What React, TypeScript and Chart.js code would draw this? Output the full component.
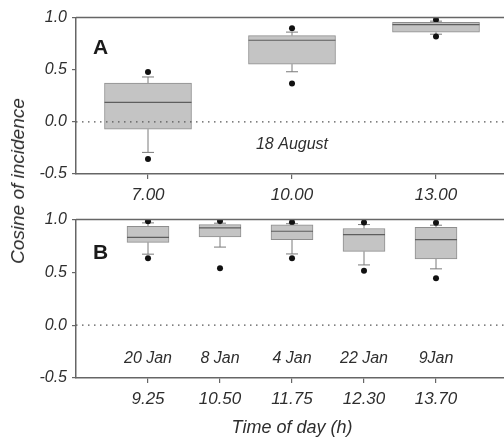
import React, { useEffect, useRef } from "react";
import { Chart, registerables } from "chart.js";

Chart.register(...registerables);

// ---------- Panel A (18 August) ----------
const positionsA = [1, 3, 5];
const tickLabelsA = ["7.00", "10.00", "13.00"];
const q1A = [-0.07, 0.553, 0.859];
const q3A = [0.372, 0.826, 0.954];
const medianA = [0.187, 0.782, 0.931];
const whiskerLowA = [-0.293, 0.48, 0.84];
const whiskerHighA = [0.43, 0.86, 0.965];
const outlierLowA = [-0.357, 0.368, 0.817];
const outlierHighA = [0.477, 0.897, 0.979];
const dateLabelsA = ["", "18 August", ""];

// ---------- Panel B (January) ----------
const positionsB = [1, 2, 3, 4, 5];
const tickLabelsB = ["9.25", "10.50", "11.75", "12.30", "13.70"];
const q1B = [0.784, 0.834, 0.81, 0.698, 0.627];
const q3B = [0.936, 0.952, 0.949, 0.915, 0.927];
const medianB = [0.831, 0.92, 0.889, 0.857, 0.81];
const whiskerLowB = [0.672, 0.739, 0.674, 0.57, 0.533];
const whiskerHighB = [0.968, 0.965, 0.96, 0.952, 0.946];
const outlierLowB = [0.634, 0.539, 0.633, 0.515, 0.444];
const outlierHighB = [0.984, 0.985, 0.974, 0.971, 0.97];
const dateLabelsB = ["20 Jan", "8 Jan", "4 Jan", "22 Jan", "9Jan"];

const yTicks = [-0.5, 0.0, 0.5, 1.0];
const yTitle = "Cosine of incidence";
const xTitle = "Time of day (h)";

const FONT = "'Liberation Sans', Arial, Helvetica, sans-serif";
const AXIS_COLOR = "#666";
const TEXT_COLOR = "#2e2e2e";

type PanelSpec = {
  letter: string;
  letterY: number;
  positions: number[];
  tickLabels: string[];
  q1: number[];
  q3: number[];
  median: number[];
  wLow: number[];
  wHigh: number[];
  oLow: number[];
  oHigh: number[];
  dates: string[];
  dateY: number;
  boxWidth: number;
  canvasHeight: number;
  areaTop: number;
  areaBottom: number;
  showXTitle: boolean;
};

function buildChart(canvas: HTMLCanvasElement, p: PanelSpec) {
  const annot = {
    id: "boxAnnot",
    beforeDatasetsDraw(chart: any) {
      const ctx = chart.ctx;
      const xs = chart.scales.x;
      const ys = chart.scales.y;
      ctx.save();
      ctx.strokeStyle = "#7a7a7a";
      ctx.lineWidth = 1;
      p.positions.forEach((pos, i) => {
        const x = xs.getPixelForValue(pos);
        const yq1 = ys.getPixelForValue(p.q1[i]);
        const yq3 = ys.getPixelForValue(p.q3[i]);
        const yl = ys.getPixelForValue(p.wLow[i]);
        const yh = ys.getPixelForValue(p.wHigh[i]);
        ctx.beginPath();
        ctx.moveTo(x, yq3);
        ctx.lineTo(x, yh);
        ctx.moveTo(x - 6, yh);
        ctx.lineTo(x + 6, yh);
        ctx.moveTo(x, yq1);
        ctx.lineTo(x, yl);
        ctx.moveTo(x - 6, yl);
        ctx.lineTo(x + 6, yl);
        ctx.stroke();
      });
      ctx.restore();
    },
    afterDatasetsDraw(chart: any) {
      const ctx = chart.ctx;
      const xs = chart.scales.x;
      const ys = chart.scales.y;
      const area = chart.chartArea;
      ctx.save();
      // medians
      ctx.strokeStyle = "#5e5e5e";
      ctx.lineWidth = 1.2;
      p.positions.forEach((pos, i) => {
        const x = xs.getPixelForValue(pos);
        const y = ys.getPixelForValue(p.median[i]);
        ctx.beginPath();
        ctx.moveTo(x - p.boxWidth / 2, y);
        ctx.lineTo(x + p.boxWidth / 2, y);
        ctx.stroke();
      });
      // zero line
      const y0 = ys.getPixelForValue(0);
      ctx.strokeStyle = "#555";
      ctx.lineWidth = 1.3;
      ctx.setLineDash([1.5, 4.5]);
      ctx.beginPath();
      ctx.moveTo(area.left, y0);
      ctx.lineTo(area.right, y0);
      ctx.stroke();
      ctx.setLineDash([]);
      // frame top & right
      ctx.strokeStyle = AXIS_COLOR;
      ctx.lineWidth = 1.5;
      ctx.beginPath();
      ctx.moveTo(area.left, area.top);
      ctx.lineTo(area.right, area.top);
      ctx.lineTo(area.right, area.bottom);
      ctx.stroke();
      // panel letter
      ctx.fillStyle = "#1a1a1a";
      ctx.font = `bold 21px ${FONT}`;
      ctx.textAlign = "center";
      ctx.textBaseline = "middle";
      ctx.fillText(p.letter, xs.getPixelForValue(0.34), ys.getPixelForValue(p.letterY));
      // date labels
      ctx.fillStyle = TEXT_COLOR;
      ctx.font = `italic 16px ${FONT}`;
      p.dates.forEach((d, i) => {
        if (!d) return;
        ctx.fillText(d, xs.getPixelForValue(p.positions[i]), ys.getPixelForValue(p.dateY));
      });
      ctx.restore();
    },
  };

  const xHeight = p.canvasHeight - p.areaBottom;

  return new Chart(canvas, {
    type: "bar",
    data: {
      datasets: [
        {
          type: "bar",
          data: p.positions.map((x, i) => ({ x, y: [p.q1[i], p.q3[i]] })) as any,
          backgroundColor: "#c4c4c4",
          borderColor: "#8e8e8e",
          borderWidth: 1,
          borderSkipped: false,
          barThickness: p.boxWidth,
        } as any,
        {
          type: "scatter",
          data: p.positions
            .map((x, i) => ({ x, y: p.oLow[i] }))
            .concat(p.positions.map((x, i) => ({ x, y: p.oHigh[i] }))),
          backgroundColor: "#111",
          borderColor: "#111",
          borderWidth: 0,
          pointRadius: 3,
        } as any,
      ],
    },
    options: {
      animation: false,
      responsive: false,
      devicePixelRatio: 1,
      layout: { padding: { top: p.areaTop, right: 12, left: 0, bottom: 0 } },
      plugins: { legend: { display: false }, tooltip: { enabled: false } },
      scales: {
        x: {
          type: "linear",
          min: 0,
          max: 6,
          offset: false,
          afterBuildTicks: (scale: any) => {
            scale.ticks = p.positions.map((v) => ({ value: v }));
          },
          afterFit: (scale: any) => {
            scale.height = xHeight;
          },
          ticks: {
            autoSkip: false,
            maxRotation: 0,
            padding: 6,
            color: TEXT_COLOR,
            font: { family: FONT, size: 17, style: "italic" },
            callback: (v: any) => {
              const idx = p.positions.indexOf(Number(v));
              return idx >= 0 ? p.tickLabels[idx] : "";
            },
          },
          grid: {
            offset: false,
            drawOnChartArea: false,
            drawTicks: true,
            tickLength: 5,
            color: AXIS_COLOR,
            lineWidth: 1.2,
          },
          border: { display: true, color: AXIS_COLOR, width: 1.5 },
          title: {
            display: p.showXTitle,
            text: xTitle,
            color: TEXT_COLOR,
            font: { family: FONT, size: 18, style: "italic" },
            padding: { top: 0, bottom: 0 },
          },
        },
        y: {
          type: "linear",
          min: -0.5,
          max: 1.0,
          afterBuildTicks: (scale: any) => {
            scale.ticks = yTicks.map((v) => ({ value: v }));
          },
          afterFit: (scale: any) => {
            scale.width = 76;
          },
          ticks: {
            padding: 5,
            color: TEXT_COLOR,
            font: { family: FONT, size: 16, style: "italic" },
            callback: (v: any) => Number(v).toFixed(1),
          },
          grid: {
            drawOnChartArea: false,
            drawTicks: true,
            tickLength: 4,
            color: AXIS_COLOR,
            lineWidth: 1.2,
          },
          border: { display: true, color: AXIS_COLOR, width: 1.5 },
        },
      },
    } as any,
    plugins: [annot],
  });
}

const panelA: PanelSpec = {
  letter: "A",
  letterY: 0.71,
  positions: positionsA,
  tickLabels: tickLabelsA,
  q1: q1A,
  q3: q3A,
  median: medianA,
  wLow: whiskerLowA,
  wHigh: whiskerHighA,
  oLow: outlierLowA,
  oHigh: outlierHighA,
  dates: dateLabelsA,
  dateY: -0.22,
  boxWidth: 87,
  canvasHeight: 212,
  areaTop: 17.5,
  areaBottom: 174,
  showXTitle: false,
};

const panelB: PanelSpec = {
  letter: "B",
  letterY: 0.68,
  positions: positionsB,
  tickLabels: tickLabelsB,
  q1: q1B,
  q3: q3B,
  median: medianB,
  wLow: whiskerLowB,
  wHigh: whiskerHighB,
  oLow: outlierLowB,
  oHigh: outlierHighB,
  dates: dateLabelsB,
  dateY: -0.32,
  boxWidth: 42,
  canvasHeight: 239,
  areaTop: 19.5,
  areaBottom: 178,
  showXTitle: true,
};

function Panel({ spec, top }: { spec: PanelSpec; top: number }) {
  const ref = useRef<HTMLCanvasElement>(null);
  useEffect(() => {
    if (!ref.current) return;
    const chart = buildChart(ref.current, spec);
    return () => chart.destroy();
  }, [spec]);
  return (
    <canvas
      ref={ref}
      width={520}
      height={spec.canvasHeight}
      style={{ position: "absolute", left: 0, top, width: 520, height: spec.canvasHeight }}
    />
  );
}

export default function App() {
  return (
    <div
      style={{
        position: "fixed",
        left: 0,
        top: 0,
        width: 504,
        height: 439,
        overflow: "hidden",
        background: "#fff",
      }}
    >
      <Panel spec={panelA} top={0} />
      <Panel spec={panelB} top={200} />
      <div
        style={{
          position: "absolute",
          left: 18,
          top: 181,
          transform: "translate(-50%, -50%) rotate(-90deg)",
          whiteSpace: "nowrap",
          font: `italic 19px ${FONT}`,
          color: TEXT_COLOR,
        }}
      >
        {yTitle}
      </div>
    </div>
  );
}
